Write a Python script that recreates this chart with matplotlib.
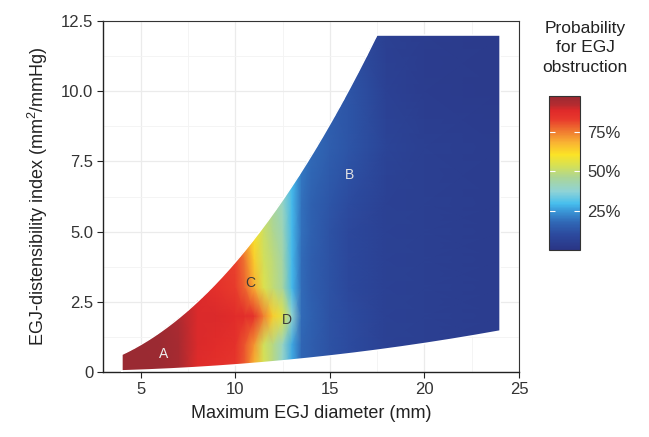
import numpy as np
import matplotlib
matplotlib.use("Agg")
import matplotlib.pyplot as plt
from matplotlib.colors import LinearSegmentedColormap, Normalize
from matplotlib.path import Path
from matplotlib.patches import PathPatch
from matplotlib.cm import ScalarMappable

plt.rcParams['font.family'] = ['Liberation Sans', 'DejaVu Sans']
plt.rcParams['mathtext.fontset'] = 'custom'
plt.rcParams['mathtext.rm'] = 'Liberation Sans'
plt.rcParams['mathtext.it'] = 'Liberation Sans:italic'

# ---------------- data ----------------
diameter_nodes = [4, 5, 6, 7, 8, 9, 10, 10.5, 11, 11.5, 12, 12.5, 13, 13.5, 14, 15, 16, 18, 20, 24]
di_nodes = [0, 1, 2, 3, 4, 5, 6, 8, 10, 12]

prob_di0 = [.98, .98, .975, .95, .88, .86, .84, .79, .67, .54, .48, .38, .27, .17, .15, .12, .10, .06, .05, .04]
prob_di1 = [.98, .98, .975, .95, .89, .88, .86, .80, .72, .53, .48, .40, .27, .17, .15, .12, .10, .06, .05, .04]
prob_di2 = [.98, .98, .97, .94, .89, .89, .88, .87, .85, .75, .64, .56, .38, .18, .16, .12, .10, .06, .05, .04]
prob_di3 = [.98, .975, .97, .93, .89, .86, .83, .78, .69, .55, .50, .45, .29, .18, .15, .12, .09, .06, .05, .04]
prob_di4 = [.98, .975, .97, .93, .89, .86, .82, .76, .64, .53, .49, .44, .29, .18, .15, .12, .09, .06, .05, .04]
prob_di5 = [.98, .975, .97, .93, .89, .86, .80, .70, .60, .52, .47, .42, .29, .19, .16, .12, .09, .06, .05, .04]
prob_di6 = [.98, .975, .97, .93, .89, .86, .80, .70, .58, .50, .45, .40, .29, .19, .16, .13, .10, .06, .05, .04]
prob_di8 = [.98, .975, .97, .93, .89, .86, .80, .70, .58, .50, .45, .40, .29, .21, .18, .15, .13, .07, .05, .04]
prob_di10 = [.98, .975, .97, .93, .89, .86, .80, .70, .58, .50, .45, .40, .29, .21, .17, .15, .13, .06, .04, .03]
prob_di12 = [.98, .975, .97, .93, .89, .86, .80, .70, .58, .50, .45, .40, .29, .21, .17, .14, .11, .05, .04, .03]
prob_rows = [prob_di0, prob_di1, prob_di2, prob_di3, prob_di4,
             prob_di5, prob_di6, prob_di8, prob_di10, prob_di12]

# domain of the model (diameter range, pressure bounds, DI cap)
diameter_min, diameter_max = 4, 24
pressure_low = 20
pressure_high = 310
di_cap = 12

region_labels = ["A", "B", "C", "D"]
region_x = [6.2, 16.05, 10.8, 12.75]
region_y = [0.64, 7.0, 3.17, 1.85]
region_colors = ["#eeeeee", "#e4e4e4", "#3a3a3a", "#3a3a3a"]

x_ticks = [5, 10, 15, 20, 25]
y_ticks = [0, 2.5, 5.0, 7.5, 10.0, 12.5]
y_tick_labels = ["0", "2.5", "5.0", "7.5", "10.0", "12.5"]
cbar_ticks = [0.25, 0.50, 0.75]
cbar_tick_labels = ["25%", "50%", "75%"]

# ---------------- style ----------------
cmap_pos = [0, .10, .18, .25, .30, .38, .47, .55, .62, .70, .77, .85, .905, .945, 1.0]
cmap_cols = ["#2A3585", "#2C4A9E", "#3068B6", "#3A95D6", "#47BEEE", "#8FD3D6",
             "#ABD597", "#D7E153", "#FBE326", "#F9B233", "#F07B30", "#E8392C",
             "#E02A2A", "#B42B30", "#9A2A32"]
cmap = LinearSegmentedColormap.from_list("egj", list(zip(cmap_pos, cmap_cols)))
norm = Normalize(vmin=0.0, vmax=0.98)

fig = plt.figure(figsize=(6.49, 4.37), dpi=100)
ax = fig.add_axes([103 / 649, 1 - 372 / 437, 416 / 649, 351 / 437])

X, Y = np.meshgrid(diameter_nodes, di_nodes)
C = np.array(prob_rows)
mesh = ax.pcolormesh(X, Y, C, shading='gouraud', cmap=cmap, norm=norm, zorder=2)

# clip to model domain
d_cap = np.sqrt(di_cap * 4 * pressure_low / np.pi)
d_up = np.linspace(diameter_min, d_cap, 200)
d_lo = np.linspace(diameter_max, diameter_min, 200)
verts = [(diameter_min, np.pi * diameter_min ** 2 / (4 * pressure_high))]
verts += list(zip(d_up, np.pi * d_up ** 2 / (4 * pressure_low)))
verts += [(diameter_max, di_cap)]
verts += list(zip(d_lo, np.pi * d_lo ** 2 / (4 * pressure_high)))
verts += [verts[0]]
clip = PathPatch(Path(verts), transform=ax.transData, facecolor='none', edgecolor='none')
ax.add_patch(clip)
mesh.set_clip_path(clip)
# smooth the clipped edge
vx, vy = zip(*verts)
ax.plot(vx, vy, color='white', lw=1.1, solid_joinstyle='round', zorder=3)

for lab, lx, ly, lc in zip(region_labels, region_x, region_y, region_colors):
    ax.text(lx, ly, lab, color=lc, fontsize=10, ha='center', va='center', zorder=4)

ax.set_xlim(3, 25)
ax.set_ylim(0, 12.5)
ax.set_xticks(x_ticks)
ax.set_xticks([7.5, 12.5, 17.5, 22.5], minor=True)
ax.set_yticks(y_ticks)
ax.set_yticklabels(y_tick_labels)
ax.set_yticks([1.25, 3.75, 6.25, 8.75, 11.25], minor=True)
ax.grid(True, which='major', color='#EBEBEB', lw=0.9, zorder=0)
ax.grid(True, which='minor', color='#F3F3F3', lw=0.6, zorder=0)
ax.set_axisbelow(True)
ax.tick_params(which='major', direction='out', length=4, width=0.8, color='#222222',
               labelsize=12, labelcolor='#333333', pad=3)
ax.tick_params(which='minor', length=0)
for s in ['left', 'bottom']:
    ax.spines[s].set_color('#222222')
    ax.spines[s].set_linewidth(1.0)
for s in ['top', 'right']:
    ax.spines[s].set_color('#333333')
    ax.spines[s].set_linewidth(0.8)

ax.set_xlabel("Maximum EGJ diameter (mm)", fontsize=13, color='#222222', labelpad=6)
ax.set_ylabel(r"EGJ-distensibility index (mm$^{2}$/mmHg)", fontsize=13, color='#222222', labelpad=8)

# colorbar
cax = fig.add_axes([549 / 649, 1 - 250 / 437, 31 / 649, 154 / 437])
sm = ScalarMappable(norm=norm, cmap=cmap)
cb = fig.colorbar(sm, cax=cax, ticks=cbar_ticks)
cb.ax.set_yticklabels(cbar_tick_labels)
cb.ax.tick_params(direction='in', color='white', length=4, width=0.8,
                  left=True, right=True, labelleft=False, labelright=True,
                  labelsize=12, labelcolor='#333333', pad=5)
cb.outline.set_edgecolor('#333333')
cb.outline.set_linewidth(0.8)

fig.text(585 / 649, 1 - 48 / 437, "Probability\nfor EGJ\nobstruction", ha='center', va='center',
         fontsize=12.5, color='#222222', linespacing=1.35)

fig.savefig("out.png", dpi=100)
